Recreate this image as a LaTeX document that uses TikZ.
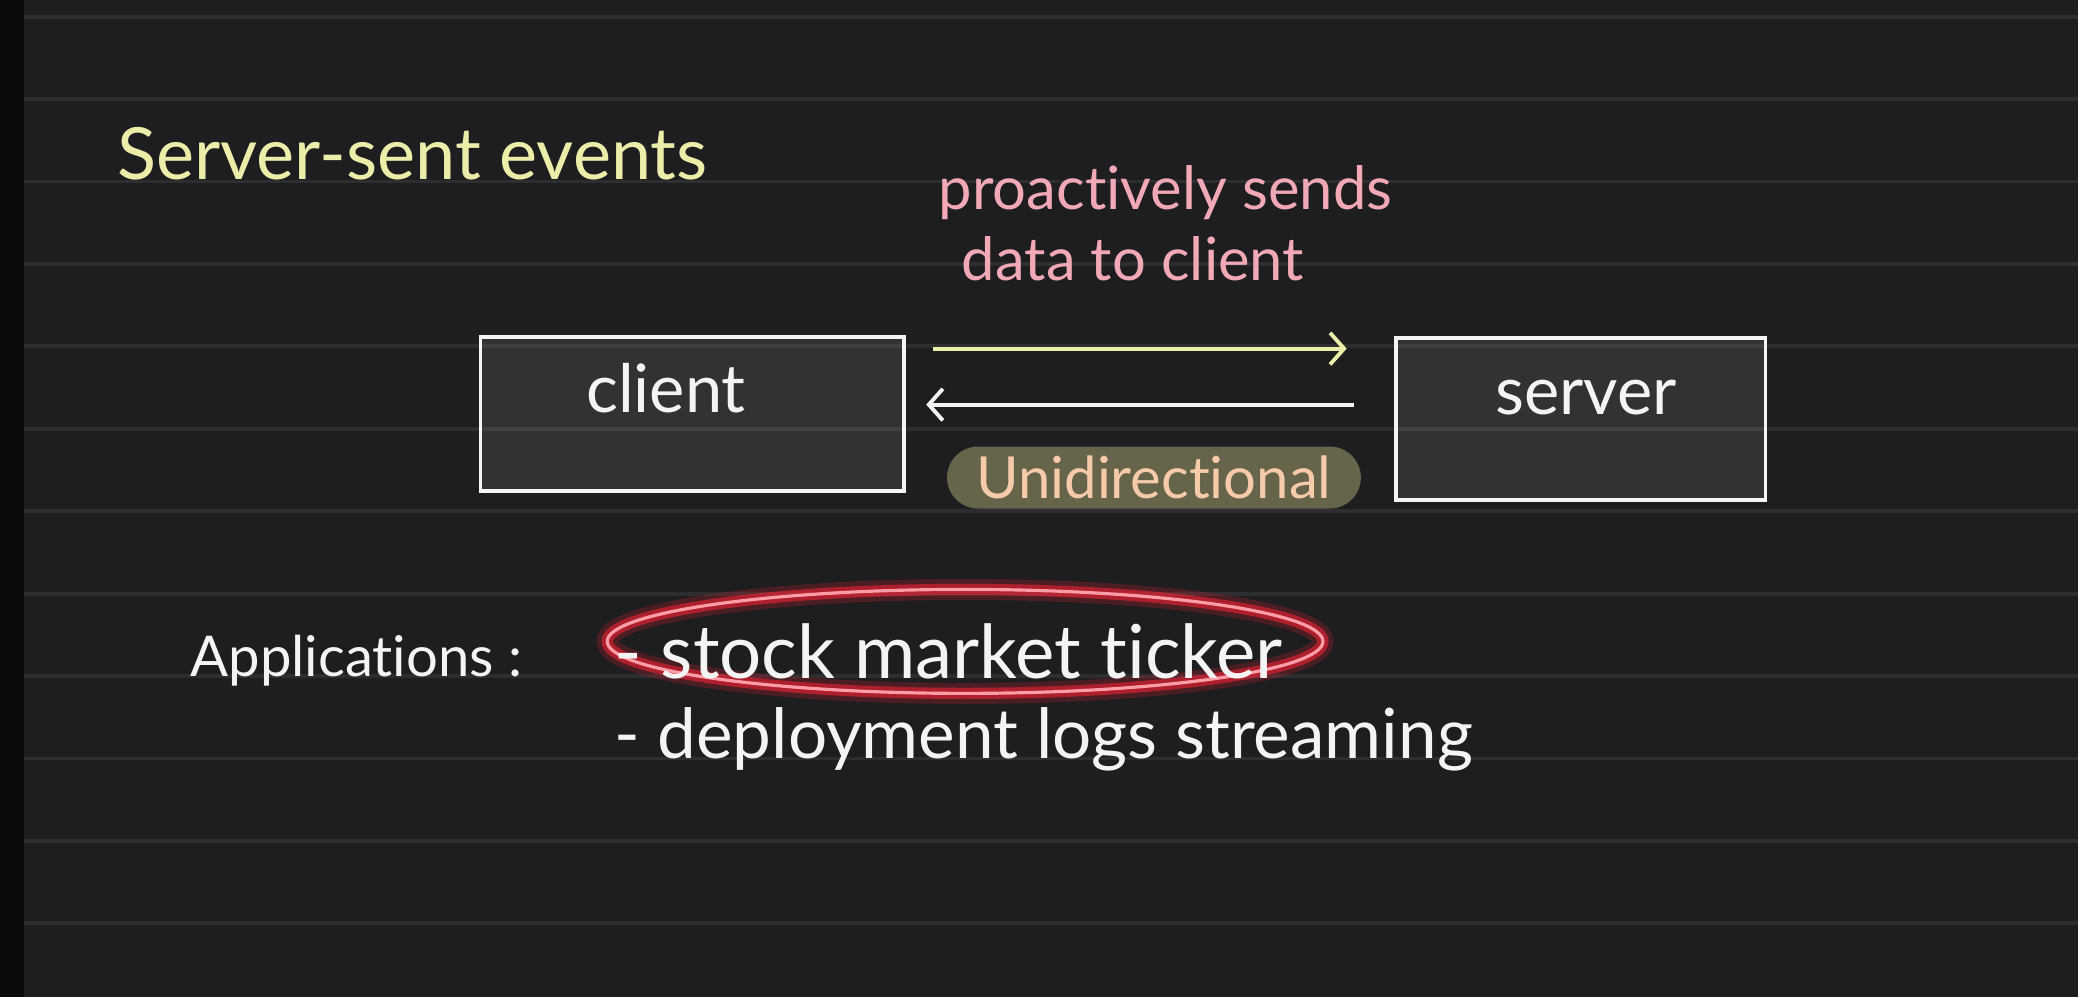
\documentclass[tikz,border=0pt]{standalone}
\usepackage{fontspec}
\setmainfont{Lato}[Ligatures={NoCommon,NoRare}]
\usetikzlibrary{shapes.geometric, arrows.meta, positioning}
\usepackage{xcolor}
\definecolor{BoardBg}{HTML}{1E1D1F}
\definecolor{BoardEdge}{HTML}{0B0B0C}
\definecolor{BoardRule}{HTML}{2E2E30}
\definecolor{ChalkWhite}{HTML}{F4F4F4}
\definecolor{ChalkYellow}{HTML}{EDEDAA}
\definecolor{ChalkPink}{HTML}{F2A9B6}
\definecolor{ChalkPeach}{HTML}{F5CBAA}
\definecolor{PillOlive}{HTML}{66644A}
\definecolor{MarkerRed}{HTML}{FF2236}
\tikzset{
    % Text styles
    heading/.style={
        anchor=base west,
        inner sep=0pt,
        text=ChalkYellow,
        font=\fontsize{20.5}{25}\selectfont
    },
    note/.style={
        anchor=base west,
        inner sep=0pt,
        text=ChalkPink,
        font=\fontsize{17}{21}\selectfont
    },
    listitem/.style={
        anchor=base west,
        inner sep=0pt,
        text=ChalkWhite,
        font=\fontsize{21.2}{25}\selectfont
    },
    % Box styles
    endpoint/.style={
        rectangle,
        draw=ChalkWhite,
        fill=white,
        fill opacity=0.09,
        text opacity=1,
        line width=1.1pt,
        inner sep=0pt
    },
    boxlabel/.style={
        anchor=base west,
        inner sep=0pt,
        text=ChalkWhite,
        font=\fontsize{19}{23}\selectfont
    },
    pill/.style={
        rectangle,
        rounded corners=0.31cm,
        fill=PillOlive,
        text=ChalkPeach,
        minimum width=4.14cm,
        minimum height=0.62cm,
        inner sep=0pt,
        font=\fontsize{16.5}{20}\selectfont
    },
    % Arrow styles
    pusharrow/.style={
        -{Straight Barb[length=4pt, width=9pt]},
        line width=1.1pt,
        draw=ChalkYellow
    },
    backarrow/.style={
        -{Straight Barb[length=4pt, width=9pt]},
        line width=1.1pt,
        draw=ChalkWhite
    },
    rule/.style={
        line width=1.1pt,
        draw=BoardRule
    },
    marker/.style={
        ellipse,
        draw=MarkerRed!45!white,
        line width=0.9pt,
        preaction={draw=MarkerRed, line width=3.2pt, draw opacity=0.55},
        preaction={draw=MarkerRed, line width=6pt, draw opacity=0.2},
        inner sep=0pt
    }
}

\begin{document}
\begin{tikzpicture}[x=0.01cm, y=-0.01cm]
    % board
    \fill[BoardBg] (0,0) rectangle (2080,998);
    \fill[BoardEdge] (0,0) rectangle (24,998);
    \foreach \k in {0,...,11}
        \draw[rule] (24,16.7+82.5*\k) -- (2080,16.7+82.5*\k);

    \node[heading] (title) at (117,180) {Server-sent events};

    \node[note] (sends) at (939,210) {proactively sends};
    \node[note] (data) at (962,281) {data to client};

    \node[endpoint, minimum width=4.24cm, minimum height=1.54cm] (client) at (693,414) {};
    \node[endpoint, minimum width=3.70cm, minimum height=1.62cm] (server) at (1582,419) {};
    \node[boxlabel] (clientlbl) at (586,413) {client};
    \node[boxlabel] (serverlbl) at (1496,415) {server};

    \draw[pusharrow, shorten <=0.27cm, shorten >=0.47cm]
        ([yshift=0.65cm]client.east) -- ([yshift=0.65cm]client.east -| server.west);
    \draw[backarrow, shorten <=0.40cm, shorten >=0.20cm]
        ([yshift=0.09cm]client.east -| server.west) -- ([yshift=0.09cm]client.east);

    \node[pill] (uni) at (1155,478) {Unidirectional};

    \node[listitem, font=\fontsize{16}{20}\selectfont] (apps) at (190,677) {Applications :};
    \node[marker, minimum width=7.16cm, minimum height=1.04cm] (ring) at (966,642) {};
    \node[listitem] (stock) at (614,679) {- stock market ticker};
    \node[listitem, font=\fontsize{19.7}{24}\selectfont] (deploy) at (614,759) {- deployment logs streaming};
\end{tikzpicture}
\end{document}
